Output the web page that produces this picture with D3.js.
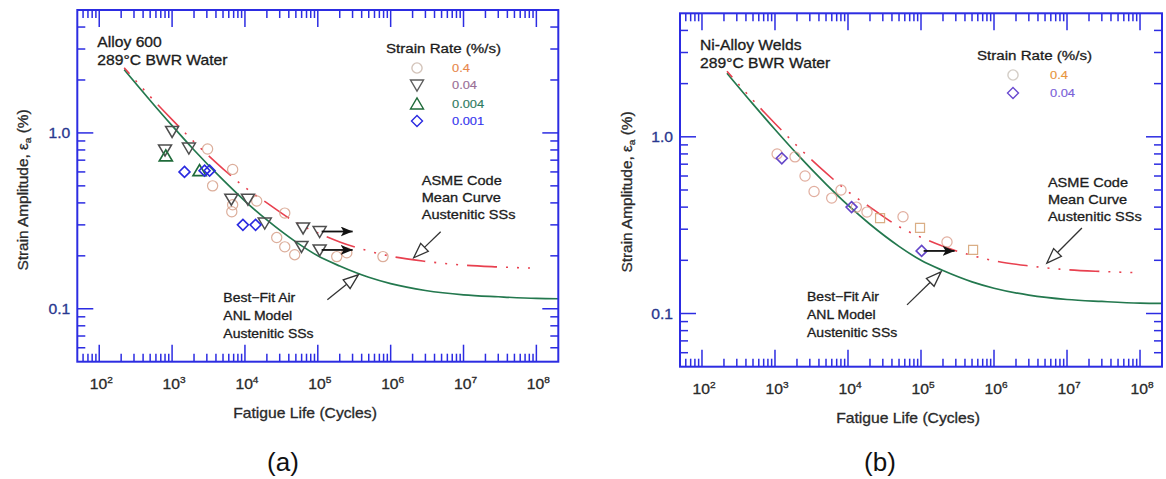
<!DOCTYPE html>
<html>
<head>
<meta charset="utf-8">
<script src="https://cdn.jsdelivr.net/npm/d3@7"></script>
<style>
  html, body { margin: 0; padding: 0; background: #fff; }
  svg { display: block; }
  text { font-family: "Liberation Sans", Arial, Helvetica, sans-serif; }
</style>
</head>
<body>
<svg id="fig" width="1166" height="479"></svg>
<script>
// ---- Axis settings shared by both panels ----
const xDomain = [50, 2e8];
const yDomain = [0.05, 5];
const xDecades = [2, 3, 4, 5, 6, 7, 8];
const yTickValues = [0.1, 1.0];
const yTickLabels = ["0.1", "1.0"];

// ---- Best-fit air curve, ANL model for austenitic SSs ----
const airN   = [220, 500, 1000, 2000, 5000, 1e4, 2e4, 5e4, 1e5, 2e5, 5e5, 1e6, 3e6, 1e7, 3e7, 1e8, 2e8];
const airEps = [2.29, 1.53, 1.10, 0.80, 0.54, 0.41, 0.32, 0.24, 0.20, 0.175, 0.151, 0.139, 0.127, 0.120, 0.117, 0.1145, 0.114];

// ---- ASME Code mean curve, austenitic SSs ----
const asmeN   = [220, 500, 1000, 2000, 5000, 1e4, 2e4, 5e4, 1e5, 2e5, 5e5, 1e6, 3e6, 1e7, 3e7, 1e8];
const asmeEps = [2.35, 1.61, 1.19, 0.89, 0.625, 0.49, 0.40, 0.31, 0.27, 0.24, 0.213, 0.199, 0.186, 0.177, 0.173, 0.170];

// ---- (a) Alloy 600, 289°C BWR water ----
const rateLabelsA = ["0.4", "0.04", "0.004", "0.001"];
const a04N    = [3070, 6780, 3600, 6780, 6600, 14500, 35200, 27300, 35200, 48200, 182000, 250000, 784000];
const a04Eps  = [0.81, 0.62, 0.50, 0.39, 0.356, 0.41, 0.35, 0.254, 0.225, 0.203, 0.198, 0.208, 0.198];
const a004N   = [1000, 1700, 800, 6500, 11000, 18700, 62800, 106000, 59700, 106000];
const a004Eps = [1.02, 0.82, 0.80, 0.42, 0.42, 0.307, 0.288, 0.275, 0.226, 0.216];
const a0004N   = [820, 2380];
const a0004Eps = [0.74, 0.61];
const a0001N   = [1480, 2790, 3270, 9380, 14000];
const a0001Eps = [0.60, 0.61, 0.61, 0.30, 0.30];
const aRunoutN   = [106000, 106000];
const aRunoutEps = [0.275, 0.216];

// ---- (b) Ni-alloy welds, 289°C BWR water ----
const rateLabelsB = ["0.4", "0.04"];
const b04CircN   = [1070, 1880, 2580, 3430, 5980, 8020, 13000, 18200, 56700, 227000];
const b04CircEps = [0.80, 0.77, 0.60, 0.49, 0.45, 0.50, 0.40, 0.375, 0.353, 0.254];
const b04SqN     = [27500, 97000, 517000];
const b04SqEps   = [0.347, 0.305, 0.229];
const b004N      = [1240, 11200, 102000];
const b004Eps    = [0.756, 0.40, 0.226];
const bRunoutN   = [102000];
const bRunoutEps = [0.226];

// ---- Colours ----
const axisBlue = "#2c2ce2";
const greenLine = "#23784e";
const redLine = "#e8404f";

const shapes = {
  circle: d3.symbol(d3.symbolCircle, Math.PI * 26)(),
  down:   "M-6.5,-5L6.5,-5L0,6Z",
  up:     "M-6.5,5L6.5,5L0,-6Z",
  diamond:"M0,-5.5L5.5,0L0,5.5L-5.5,0Z",
  square: "M-4.5,-4.5h9v9h-9Z"
};

const svg = d3.select("#fig");
svg.append("rect").attr("width", 1166).attr("height", 479).attr("fill", "#fff");

const defs = svg.append("defs");
defs.append("marker").attr("id", "solidHead")
  .attr("viewBox", "0 0 12 10").attr("refX", 12).attr("refY", 5)
  .attr("markerWidth", 12).attr("markerHeight", 10).attr("markerUnits", "userSpaceOnUse")
  .attr("orient", "auto")
  .append("path").attr("d", "M0,0L12,5L0,10L3,5Z").attr("fill", "#111");

// Text helper: slightly widened, slightly heavy sans text
function label(g, x, y, str, opts = {}) {
  const fill = opts.fill || "#1c1c1c";
  const t = g.append("text")
    .attr("transform", `translate(${x},${y}) scale(${opts.sx || 1.12},1)`)
    .attr("font-size", opts.size || 14)
    .attr("fill", fill)
    .attr("stroke", fill).attr("stroke-width", opts.weight == null ? 0.3 : opts.weight)
    .attr("text-anchor", opts.anchor || "start")
    .text(str);
  return t;
}

// Hollow-headed pointer from a text block to a curve
function pointer(g, tx, ty, hx, hy) {
  const ang = Math.atan2(hy - ty, hx - tx);
  const L = 15, W = 5.5;
  const bx = hx - L * Math.cos(ang), by = hy - L * Math.sin(ang);
  const px = -Math.sin(ang) * W, py = Math.cos(ang) * W;
  g.append("line").attr("x1", tx).attr("y1", ty).attr("x2", bx).attr("y2", by)
    .attr("stroke", "#333").attr("stroke-width", 1.3);
  g.append("path")
    .attr("d", `M${hx},${hy}L${bx + px},${by + py}L${bx - px},${by - py}Z`)
    .attr("fill", "#fff").attr("stroke", "#333").attr("stroke-width", 1.3);
}

function drawPanel(p) {
  const x = d3.scaleLog().domain(xDomain).range([p.left, p.right]);
  const y = d3.scaleLog().domain(yDomain).range([p.bottom, p.top]);
  const g = svg.append("g");

  const line = d3.line().x(d => x(d[0])).y(d => y(d[1])).curve(d3.curveMonotoneX);

  // model curves
  g.append("path").datum(d3.zip(airN, airEps)).attr("d", line)
    .attr("fill", "none").attr("stroke", greenLine).attr("stroke-width", 1.7);
  g.append("path").datum(d3.zip(asmeN, asmeEps)).attr("d", line)
    .attr("fill", "none").attr("stroke", redLine).attr("stroke-width", 1.6)
    .attr("stroke-dasharray", "30,9,2,9,2,9,2,9").attr("stroke-dashoffset", 22);

  // data markers
  p.series.forEach(s => {
    g.selectAll(null).data(d3.zip(s.n, s.eps)).join("path")
      .attr("transform", d => `translate(${x(d[0])},${y(d[1])})`)
      .attr("d", shapes[s.shape])
      .attr("fill", "none").attr("stroke", s.color)
      .attr("stroke-width", s.width || 1.2).attr("opacity", s.opacity || 1);
  });

  // run-out arrows (tests that did not fail)
  g.selectAll(null).data(d3.zip(p.runN, p.runEps)).join("line")
    .attr("x1", d => x(d[0]) + 2).attr("y1", d => y(d[1]))
    .attr("x2", d => x(d[0]) + 33).attr("y2", d => y(d[1]))
    .attr("stroke", "#111").attr("stroke-width", 1.8)
    .attr("marker-end", "url(#solidHead)");

  // frame
  g.append("rect").attr("x", p.left).attr("y", p.top)
    .attr("width", p.right - p.left).attr("height", p.bottom - p.top)
    .attr("fill", "none").attr("stroke", axisBlue).attr("stroke-width", 2);

  // x ticks, bottom and top, pointing inward
  const xt = [];
  for (let d = 1; d <= 8; d++) for (let m = 1; m <= 9; m++) {
    const v = m * Math.pow(10, d);
    if (v >= xDomain[0] * 1.0001 && v <= xDomain[1] * 0.9999) xt.push({ v, major: m === 1 });
  }
  xt.forEach(t => {
    const px = x(t.v), len = t.major ? 17 : 8;
    g.append("line").attr("x1", px).attr("x2", px).attr("y1", p.bottom).attr("y2", p.bottom - len)
      .attr("stroke", axisBlue).attr("stroke-width", 1.5);
    g.append("line").attr("x1", px).attr("x2", px).attr("y1", p.top).attr("y2", p.top + len)
      .attr("stroke", axisBlue).attr("stroke-width", 1.5);
  });

  // y ticks, left and right
  const yt = [];
  for (let d = -2; d <= 0; d++) for (let m = 1; m <= 9; m++) {
    const v = m * Math.pow(10, d);
    if (v >= yDomain[0] * 1.0001 && v <= yDomain[1] * 0.9999) yt.push({ v, major: m === 1 });
  }
  yt.forEach(t => {
    const py = y(t.v), len = t.major ? 16 : 8;
    g.append("line").attr("y1", py).attr("y2", py).attr("x1", p.left).attr("x2", p.left + len)
      .attr("stroke", axisBlue).attr("stroke-width", 1.5);
    g.append("line").attr("y1", py).attr("y2", py).attr("x1", p.right).attr("x2", p.right - len)
      .attr("stroke", axisBlue).attr("stroke-width", 1.5);
  });

  // x tick labels 10^n
  xDecades.forEach(e => {
    const t = g.append("text")
      .attr("transform", `translate(${x(Math.pow(10, e)) + 2},${p.bottom + 27}) scale(1.12,1)`)
      .attr("font-size", 14).attr("fill", "#2a2a2a")
      .attr("stroke", "#2a2a2a").attr("stroke-width", 0.3)
      .attr("text-anchor", "middle");
    t.append("tspan").text("10");
    t.append("tspan").attr("font-size", 9).attr("dy", -6).text(e);
  });

  // y tick labels
  yTickValues.forEach((v, i) => {
    label(g, p.left - 7, y(v) + 5, yTickLabels[i], { anchor: "end", fill: "#29378f", size: 14 });
  });

  // axis titles
  label(g, p.xTitleX, p.bottom + 56, "Fatigue Life (Cycles)", { anchor: "middle", fill: "#2a2a2a", size: 14 });
  const yl = g.append("text")
    .attr("transform", `translate(${p.yTitleX},${p.yTitleY}) rotate(-90) scale(1.1,1)`)
    .attr("font-size", 14).attr("fill", "#2a2a2a")
    .attr("stroke", "#2a2a2a").attr("stroke-width", 0.3)
    .attr("text-anchor", "middle");
  yl.append("tspan").text("Strain Amplitude, ε");
  yl.append("tspan").attr("font-size", 9).attr("dy", 3).text("a");
  yl.append("tspan").attr("dy", -3).text(" (%)");

  // material / environment
  label(g, p.left + 20, p.top + 37, p.title1, { size: 14 });
  label(g, p.left + 20, p.top + 55, p.title2, { size: 14 });

  // legend
  label(g, p.legX, p.legTitleY, "Strain Rate (%/s)", { size: 13.5 });
  p.legend.forEach((it, i) => {
    const ly = p.legRowY[i];
    g.append("path").attr("transform", `translate(${p.legMarkX},${ly})`)
      .attr("d", shapes[it.shape]).attr("fill", "none")
      .attr("stroke", it.color).attr("stroke-width", 1.4).attr("opacity", it.opacity || 1);
    label(g, p.legTextX, ly + 4, it.text, { size: 11.5, fill: it.textColor, weight: 0.15 });
  });

  // curve annotations
  const asmeTip = [x(p.asmeTip[0]), y(p.asmeTip[1])];
  ["ASME Code", "Mean Curve", "Austenitic SSs"].forEach((s, i) =>
    label(g, asmeTip[0] + p.asmeText[0], asmeTip[1] + p.asmeText[1] + i * 17, s, { size: 13 }));
  pointer(g, asmeTip[0] + p.asmeTail[0], asmeTip[1] + p.asmeTail[1], asmeTip[0], asmeTip[1]);

  const airTip = [x(p.airTip[0]), y(p.airTip[1])];
  ["Best\u2212Fit Air", "ANL Model", "Austenitic SSs"].forEach((s, i) =>
    label(g, airTip[0] + p.airText[0], airTip[1] + p.airText[1] + i * 18, s, { size: 12.5 }));
  pointer(g, airTip[0] + p.airTail[0], airTip[1] + p.airTail[1], airTip[0], airTip[1]);

  // panel tag
  g.append("text").attr("x", p.tagX).attr("y", 471)
    .attr("font-family", "'Liberation Serif', 'Times New Roman', serif")
    .attr("font-size", 26).attr("fill", "#111").attr("text-anchor", "middle").text(p.tag);
}

drawPanel({
  left: 77.3, right: 558.3, top: 10, bottom: 361.7,
  title1: "Alloy 600", title2: "289°C BWR Water",
  series: [
    { n: a04N, eps: a04Eps, shape: "circle", color: "#d6a08a", opacity: 0.85 },
    { n: a004N, eps: a004Eps, shape: "down", color: "#4e4e4e", width: 1.5 },
    { n: a0004N, eps: a0004Eps, shape: "up", color: "#1f6b3a", width: 1.7 },
    { n: a0001N, eps: a0001Eps, shape: "diamond", color: "#2a2ae0", width: 1.6 }
  ],
  runN: aRunoutN, runEps: aRunoutEps,
  legX: 386, legTitleY: 53, legMarkX: 417, legTextX: 452, legRowY: [68, 85, 104, 121],
  legend: [
    { shape: "circle", color: "#c8b4a8", text: rateLabelsA[0], textColor: "#e8864a", opacity: 0.8 },
    { shape: "down", color: "#5e5e5e", text: rateLabelsA[1], textColor: "#9a6e96" },
    { shape: "up", color: "#1f6b3a", text: rateLabelsA[2], textColor: "#2e7a60" },
    { shape: "diamond", color: "#2a2ae0", text: rateLabelsA[3], textColor: "#3434ee" }
  ],
  asmeTip: [2.07e6, 0.195], asmeText: [8, -73], asmeTail: [27, -26],
  airTip: [3.6e5, 0.156], airText: [-135, 27], airTail: [-31, 25],
  xTitleX: 305, yTitleX: 28, yTitleY: 190,
  tag: "(a)", tagX: 283
});

drawPanel({
  left: 680, right: 1162, top: 13.3, bottom: 366.7,
  title1: "Ni-Alloy Welds", title2: "289°C BWR Water",
  series: [
    { n: b04CircN, eps: b04CircEps, shape: "circle", color: "#dca08e", opacity: 0.85 },
    { n: b04SqN, eps: b04SqEps, shape: "square", color: "#d4a070", opacity: 0.85 },
    { n: b004N, eps: b004Eps, shape: "diamond", color: "#6446c8", width: 1.6 }
  ],
  runN: bRunoutN, runEps: bRunoutEps,
  legX: 977, legTitleY: 60, legMarkX: 1013, legTextX: 1050, legRowY: [75, 93],
  legend: [
    { shape: "circle", color: "#c8c0b8", text: rateLabelsB[0], textColor: "#e8943c", opacity: 0.8 },
    { shape: "diamond", color: "#6a4ad0", text: rateLabelsB[1], textColor: "#7a60d8" }
  ],
  asmeTip: [5.3e6, 0.193], asmeText: [1, -76], asmeTail: [35, -35],
  airTip: [1.88e5, 0.172], airText: [-134, 29], airTail: [-34, 33],
  xTitleX: 908, yTitleX: 632, yTitleY: 192,
  tag: "(b)", tagX: 880
});
</script>
</body>
</html>
